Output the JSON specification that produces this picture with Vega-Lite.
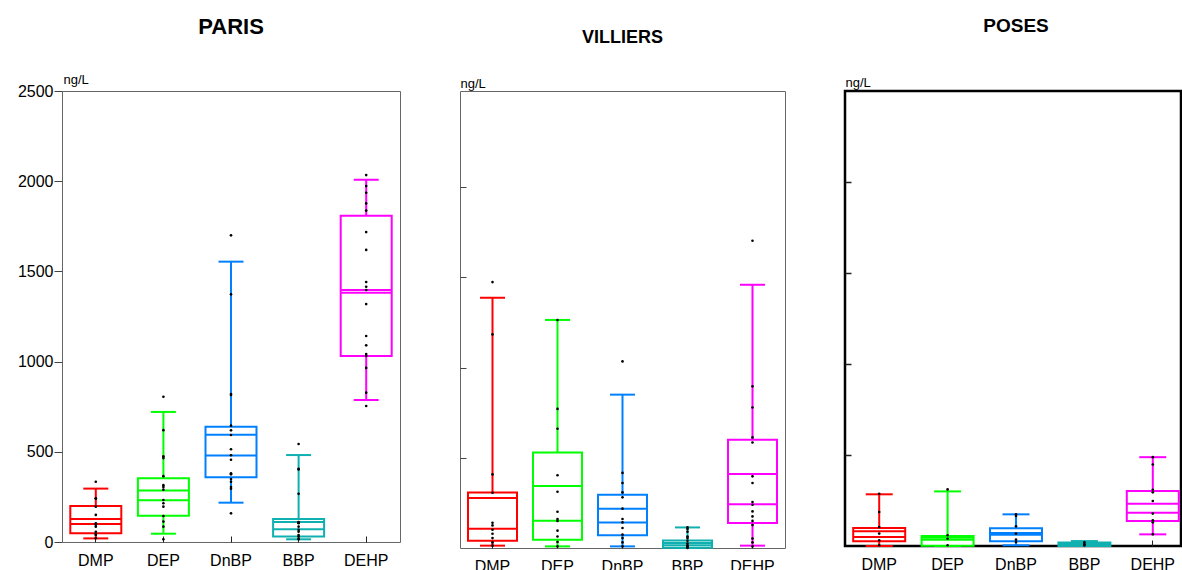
{
  "$schema": "https://vega.github.io/schema/vega-lite/v6.json",
  "autosize": {"type": "none"},
  "padding": {"left": 62, "top": 91, "right": 1120, "bottom": 479},
  "background": "white",
  "config": {"font": "Liberation Sans"},
  "spacing": 60,
  "bounds": "flush",
  "datasets": {
    "stats": [
      {"site": "PARIS", "comp": "DMP", "low": 20, "q1": 48, "med": 100, "mean": 127, "q3": 200, "high": 296},
      {"site": "PARIS", "comp": "DEP", "low": 46, "q1": 146, "med": 231, "mean": 286, "q3": 353, "high": 721},
      {"site": "PARIS", "comp": "DnBP", "low": 218, "q1": 359, "med": 480, "mean": 595, "q3": 639, "high": 1554},
      {"site": "PARIS", "comp": "BBP", "low": 15, "q1": 30, "med": 70, "mean": 111, "q3": 127, "high": 482},
      {"site": "PARIS", "comp": "DEHP", "low": 787, "q1": 1031, "med": 1382, "mean": 1397, "q3": 1809, "high": 2008},
      {"site": "VILLIERS", "comp": "DMP", "low": 13, "q1": 40, "med": 107, "mean": 277, "q3": 308, "high": 1387},
      {"site": "VILLIERS", "comp": "DEP", "low": 9, "q1": 46, "med": 151, "mean": 344, "q3": 530, "high": 1264},
      {"site": "VILLIERS", "comp": "DnBP", "low": 9, "q1": 70, "med": 142, "mean": 218, "q3": 295, "high": 850},
      {"site": "VILLIERS", "comp": "BBP", "low": 0, "q1": 2, "med": 15, "mean": 28, "q3": 42, "high": 114},
      {"site": "VILLIERS", "comp": "DEHP", "low": 13, "q1": 138, "med": 242, "mean": 410, "q3": 600, "high": 1459},
      {"site": "POSES", "comp": "DMP", "low": 0, "q1": 26, "med": 49, "mean": 81, "q3": 99, "high": 284},
      {"site": "POSES", "comp": "DEP", "low": 0, "q1": 2, "med": 35, "mean": 45, "q3": 55, "high": 300},
      {"site": "POSES", "comp": "DnBP", "low": 4, "q1": 26, "med": 62, "mean": 72, "q3": 97, "high": 174},
      {"site": "POSES", "comp": "BBP", "low": 0, "q1": 0, "med": 8, "mean": 12, "q3": 19, "high": 27},
      {"site": "POSES", "comp": "DEHP", "low": 64, "q1": 137, "med": 183, "mean": 232, "q3": 302, "high": 488}
    ],
    "pts": [
      {"site": "PARIS", "comp": "DMP", "v": 334}, {"site": "PARIS", "comp": "DMP", "v": 242}, {"site": "PARIS", "comp": "DMP", "v": 240}, {"site": "PARIS", "comp": "DMP", "v": 196}, {"site": "PARIS", "comp": "DMP", "v": 150}, {"site": "PARIS", "comp": "DMP", "v": 104}, {"site": "PARIS", "comp": "DMP", "v": 95}, {"site": "PARIS", "comp": "DMP", "v": 85}, {"site": "PARIS", "comp": "DMP", "v": 57}, {"site": "PARIS", "comp": "DMP", "v": 45}, {"site": "PARIS", "comp": "DMP", "v": 39}, {"site": "PARIS", "comp": "DMP", "v": 21},
      {"site": "PARIS", "comp": "DEP", "v": 805}, {"site": "PARIS", "comp": "DEP", "v": 620}, {"site": "PARIS", "comp": "DEP", "v": 475}, {"site": "PARIS", "comp": "DEP", "v": 465}, {"site": "PARIS", "comp": "DEP", "v": 365}, {"site": "PARIS", "comp": "DEP", "v": 315}, {"site": "PARIS", "comp": "DEP", "v": 305}, {"site": "PARIS", "comp": "DEP", "v": 290}, {"site": "PARIS", "comp": "DEP", "v": 233}, {"site": "PARIS", "comp": "DEP", "v": 215}, {"site": "PARIS", "comp": "DEP", "v": 196}, {"site": "PARIS", "comp": "DEP", "v": 144}, {"site": "PARIS", "comp": "DEP", "v": 113}, {"site": "PARIS", "comp": "DEP", "v": 85}, {"site": "PARIS", "comp": "DEP", "v": 15},
      {"site": "PARIS", "comp": "DnBP", "v": 1700}, {"site": "PARIS", "comp": "DnBP", "v": 1373}, {"site": "PARIS", "comp": "DnBP", "v": 820}, {"site": "PARIS", "comp": "DnBP", "v": 815}, {"site": "PARIS", "comp": "DnBP", "v": 645}, {"site": "PARIS", "comp": "DnBP", "v": 619}, {"site": "PARIS", "comp": "DnBP", "v": 593}, {"site": "PARIS", "comp": "DnBP", "v": 514}, {"site": "PARIS", "comp": "DnBP", "v": 481}, {"site": "PARIS", "comp": "DnBP", "v": 456}, {"site": "PARIS", "comp": "DnBP", "v": 381}, {"site": "PARIS", "comp": "DnBP", "v": 375}, {"site": "PARIS", "comp": "DnBP", "v": 349}, {"site": "PARIS", "comp": "DnBP", "v": 334}, {"site": "PARIS", "comp": "DnBP", "v": 305}, {"site": "PARIS", "comp": "DnBP", "v": 295}, {"site": "PARIS", "comp": "DnBP", "v": 159},
      {"site": "PARIS", "comp": "BBP", "v": 543}, {"site": "PARIS", "comp": "BBP", "v": 405}, {"site": "PARIS", "comp": "BBP", "v": 402}, {"site": "PARIS", "comp": "BBP", "v": 267}, {"site": "PARIS", "comp": "BBP", "v": 110}, {"site": "PARIS", "comp": "BBP", "v": 107}, {"site": "PARIS", "comp": "BBP", "v": 104}, {"site": "PARIS", "comp": "BBP", "v": 85}, {"site": "PARIS", "comp": "BBP", "v": 67}, {"site": "PARIS", "comp": "BBP", "v": 57}, {"site": "PARIS", "comp": "BBP", "v": 39}, {"site": "PARIS", "comp": "BBP", "v": 30}, {"site": "PARIS", "comp": "BBP", "v": 17}, {"site": "PARIS", "comp": "BBP", "v": 15},
      {"site": "PARIS", "comp": "DEHP", "v": 2034}, {"site": "PARIS", "comp": "DEHP", "v": 1973}, {"site": "PARIS", "comp": "DEHP", "v": 1936}, {"site": "PARIS", "comp": "DEHP", "v": 1877}, {"site": "PARIS", "comp": "DEHP", "v": 1837}, {"site": "PARIS", "comp": "DEHP", "v": 1718}, {"site": "PARIS", "comp": "DEHP", "v": 1619}, {"site": "PARIS", "comp": "DEHP", "v": 1441}, {"site": "PARIS", "comp": "DEHP", "v": 1415}, {"site": "PARIS", "comp": "DEHP", "v": 1397}, {"site": "PARIS", "comp": "DEHP", "v": 1319}, {"site": "PARIS", "comp": "DEHP", "v": 1142}, {"site": "PARIS", "comp": "DEHP", "v": 1090}, {"site": "PARIS", "comp": "DEHP", "v": 1042}, {"site": "PARIS", "comp": "DEHP", "v": 1031}, {"site": "PARIS", "comp": "DEHP", "v": 965}, {"site": "PARIS", "comp": "DEHP", "v": 828}, {"site": "PARIS", "comp": "DEHP", "v": 754},
      {"site": "VILLIERS", "comp": "DMP", "v": 1474}, {"site": "VILLIERS", "comp": "DMP", "v": 1184}, {"site": "VILLIERS", "comp": "DMP", "v": 408}, {"site": "VILLIERS", "comp": "DMP", "v": 306}, {"site": "VILLIERS", "comp": "DMP", "v": 140}, {"site": "VILLIERS", "comp": "DMP", "v": 125}, {"site": "VILLIERS", "comp": "DMP", "v": 101}, {"site": "VILLIERS", "comp": "DMP", "v": 79}, {"site": "VILLIERS", "comp": "DMP", "v": 55}, {"site": "VILLIERS", "comp": "DMP", "v": 31}, {"site": "VILLIERS", "comp": "DMP", "v": 13},
      {"site": "VILLIERS", "comp": "DEP", "v": 1264}, {"site": "VILLIERS", "comp": "DEP", "v": 771}, {"site": "VILLIERS", "comp": "DEP", "v": 661}, {"site": "VILLIERS", "comp": "DEP", "v": 403}, {"site": "VILLIERS", "comp": "DEP", "v": 312}, {"site": "VILLIERS", "comp": "DEP", "v": 201}, {"site": "VILLIERS", "comp": "DEP", "v": 161}, {"site": "VILLIERS", "comp": "DEP", "v": 150}, {"site": "VILLIERS", "comp": "DEP", "v": 96}, {"site": "VILLIERS", "comp": "DEP", "v": 64}, {"site": "VILLIERS", "comp": "DEP", "v": 33}, {"site": "VILLIERS", "comp": "DEP", "v": 9},
      {"site": "VILLIERS", "comp": "DnBP", "v": 1034}, {"site": "VILLIERS", "comp": "DnBP", "v": 416}, {"site": "VILLIERS", "comp": "DnBP", "v": 360}, {"site": "VILLIERS", "comp": "DnBP", "v": 308}, {"site": "VILLIERS", "comp": "DnBP", "v": 281}, {"site": "VILLIERS", "comp": "DnBP", "v": 218}, {"site": "VILLIERS", "comp": "DnBP", "v": 161}, {"site": "VILLIERS", "comp": "DnBP", "v": 142}, {"site": "VILLIERS", "comp": "DnBP", "v": 111}, {"site": "VILLIERS", "comp": "DnBP", "v": 74}, {"site": "VILLIERS", "comp": "DnBP", "v": 55}, {"site": "VILLIERS", "comp": "DnBP", "v": 31}, {"site": "VILLIERS", "comp": "DnBP", "v": 9},
      {"site": "VILLIERS", "comp": "BBP", "v": 114}, {"site": "VILLIERS", "comp": "BBP", "v": 105}, {"site": "VILLIERS", "comp": "BBP", "v": 90}, {"site": "VILLIERS", "comp": "BBP", "v": 64}, {"site": "VILLIERS", "comp": "BBP", "v": 55}, {"site": "VILLIERS", "comp": "BBP", "v": 40}, {"site": "VILLIERS", "comp": "BBP", "v": 25}, {"site": "VILLIERS", "comp": "BBP", "v": 15}, {"site": "VILLIERS", "comp": "BBP", "v": 8}, {"site": "VILLIERS", "comp": "BBP", "v": 3}, {"site": "VILLIERS", "comp": "BBP", "v": 0},
      {"site": "VILLIERS", "comp": "DEHP", "v": 1703}, {"site": "VILLIERS", "comp": "DEHP", "v": 896}, {"site": "VILLIERS", "comp": "DEHP", "v": 779}, {"site": "VILLIERS", "comp": "DEHP", "v": 613}, {"site": "VILLIERS", "comp": "DEHP", "v": 585}, {"site": "VILLIERS", "comp": "DEHP", "v": 397}, {"site": "VILLIERS", "comp": "DEHP", "v": 360}, {"site": "VILLIERS", "comp": "DEHP", "v": 255}, {"site": "VILLIERS", "comp": "DEHP", "v": 240}, {"site": "VILLIERS", "comp": "DEHP", "v": 203}, {"site": "VILLIERS", "comp": "DEHP", "v": 175}, {"site": "VILLIERS", "comp": "DEHP", "v": 150}, {"site": "VILLIERS", "comp": "DEHP", "v": 127}, {"site": "VILLIERS", "comp": "DEHP", "v": 52}, {"site": "VILLIERS", "comp": "DEHP", "v": 31}, {"site": "VILLIERS", "comp": "DEHP", "v": 9},
      {"site": "POSES", "comp": "DMP", "v": 287}, {"site": "POSES", "comp": "DMP", "v": 187}, {"site": "POSES", "comp": "DMP", "v": 104}, {"site": "POSES", "comp": "DMP", "v": 68}, {"site": "POSES", "comp": "DMP", "v": 31}, {"site": "POSES", "comp": "DMP", "v": 4},
      {"site": "POSES", "comp": "DEP", "v": 311}, {"site": "POSES", "comp": "DEP", "v": 59}, {"site": "POSES", "comp": "DEP", "v": 40}, {"site": "POSES", "comp": "DEP", "v": 4},
      {"site": "POSES", "comp": "DnBP", "v": 174}, {"site": "POSES", "comp": "DnBP", "v": 165}, {"site": "POSES", "comp": "DnBP", "v": 108}, {"site": "POSES", "comp": "DnBP", "v": 68}, {"site": "POSES", "comp": "DnBP", "v": 35}, {"site": "POSES", "comp": "DnBP", "v": 22},
      {"site": "POSES", "comp": "BBP", "v": 20}, {"site": "POSES", "comp": "BBP", "v": 10}, {"site": "POSES", "comp": "BBP", "v": 3},
      {"site": "POSES", "comp": "DEHP", "v": 488}, {"site": "POSES", "comp": "DEHP", "v": 448}, {"site": "POSES", "comp": "DEHP", "v": 309}, {"site": "POSES", "comp": "DEHP", "v": 295}, {"site": "POSES", "comp": "DEHP", "v": 247}, {"site": "POSES", "comp": "DEHP", "v": 178}, {"site": "POSES", "comp": "DEHP", "v": 141}, {"site": "POSES", "comp": "DEHP", "v": 130}, {"site": "POSES", "comp": "DEHP", "v": 64}
    ]
  },
  "hconcat": [
    {
      "width": 338, "height": 451,
      "title": {"text": "PARIS", "fontSize": 22, "fontWeight": "bold", "color": "black", "offset": 17, "baseline": "alphabetic", "anchor": "middle", "frame": "group"},
      "view": {"stroke": "#666", "strokeWidth": 1},
      "encoding": {
        "x": {"field": "comp", "type": "nominal", "sort": ["DMP", "DEP", "DnBP", "BBP", "DEHP"], "title": null,
              "scale": {"domain": ["DMP", "DEP", "DnBP", "BBP", "DEHP"], "paddingInner": 0, "paddingOuter": 0},
              "axis": {"labelAngle": 0, "labelFontSize": 16, "labelColor": "black", "tickSize": -6, "labelPadding": 16, "domain": false, "tickColor": "#222", "grid": false}}
      },
      "layer": [
        {"data": {"name": "stats"}, "transform": [{"filter": "datum.site === 'PARIS'"}],
         "mark": {"type": "rule", "strokeWidth": 2},
         "encoding": {
           "y": {"field": "low", "type": "quantitative", "scale": {"domain": [0, 2500]},
                 "axis": {"values": [0, 500, 1000, 1500, 2000, 2500], "format": "d", "labelFontSize": 16, "labelColor": "black", "tickSize": 8, "tickColor": "#444", "labelPadding": 1, "domain": false, "grid": false, "title": "ng/L", "titleAngle": 0, "titleAlign": "left", "titleBaseline": "alphabetic", "titleX": 1, "titleY": -8, "titleFontSize": 13, "titleFontWeight": "normal", "titleColor": "black"}},
           "y2": {"field": "high"},
           "color": {"field": "comp", "type": "nominal", "scale": {"domain": ["DMP", "DEP", "DnBP", "BBP", "DEHP"], "range": ["#ff0000", "#00ff00", "#0080ff", "#10b0b0", "#ff00ff"]}, "legend": null}
         }},
        {"data": {"name": "stats"}, "transform": [{"filter": "datum.site === 'PARIS'"}],
         "mark": {"type": "bar", "width": 51, "fill": "white", "strokeWidth": 2},
         "encoding": {
           "y": {"field": "q1", "type": "quantitative", "scale": {"domain": [0, 2500]},
                 "axis": {"values": [0, 500, 1000, 1500, 2000, 2500], "format": "d", "labelFontSize": 16, "labelColor": "black", "tickSize": 8, "tickColor": "#444", "labelPadding": 1, "domain": false, "grid": false, "title": "ng/L", "titleAngle": 0, "titleAlign": "left", "titleBaseline": "alphabetic", "titleX": 1, "titleY": -8, "titleFontSize": 13, "titleFontWeight": "normal", "titleColor": "black"}},
           "y2": {"field": "q3"},
           "stroke": {"field": "comp", "type": "nominal", "scale": {"domain": ["DMP", "DEP", "DnBP", "BBP", "DEHP"], "range": ["#ff0000", "#00ff00", "#0080ff", "#10b0b0", "#ff00ff"]}, "legend": null}
         }},
        {"data": {"name": "stats"}, "transform": [{"filter": "datum.site === 'PARIS'"}, {"fold": ["med", "mean"], "as": ["stat", "val"]}],
         "mark": {"type": "tick", "size": 51, "thickness": 2, "opacity": 1},
         "encoding": {
           "y": {"field": "val", "type": "quantitative", "scale": {"domain": [0, 2500]},
                 "axis": {"values": [0, 500, 1000, 1500, 2000, 2500], "format": "d", "labelFontSize": 16, "labelColor": "black", "tickSize": 8, "tickColor": "#444", "labelPadding": 1, "domain": false, "grid": false, "title": "ng/L", "titleAngle": 0, "titleAlign": "left", "titleBaseline": "alphabetic", "titleX": 1, "titleY": -8, "titleFontSize": 13, "titleFontWeight": "normal", "titleColor": "black"}},
           "color": {"field": "comp", "type": "nominal", "scale": {"domain": ["DMP", "DEP", "DnBP", "BBP", "DEHP"], "range": ["#ff0000", "#00ff00", "#0080ff", "#10b0b0", "#ff00ff"]}, "legend": null}
         }},
        {"data": {"name": "stats"}, "transform": [{"filter": "datum.site === 'PARIS'"}, {"fold": ["low", "high"], "as": ["stat", "val"]}],
         "mark": {"type": "tick", "size": 25, "thickness": 2, "opacity": 1},
         "encoding": {
           "y": {"field": "val", "type": "quantitative", "scale": {"domain": [0, 2500]},
                 "axis": {"values": [0, 500, 1000, 1500, 2000, 2500], "format": "d", "labelFontSize": 16, "labelColor": "black", "tickSize": 8, "tickColor": "#444", "labelPadding": 1, "domain": false, "grid": false, "title": "ng/L", "titleAngle": 0, "titleAlign": "left", "titleBaseline": "alphabetic", "titleX": 1, "titleY": -8, "titleFontSize": 13, "titleFontWeight": "normal", "titleColor": "black"}},
           "color": {"field": "comp", "type": "nominal", "scale": {"domain": ["DMP", "DEP", "DnBP", "BBP", "DEHP"], "range": ["#ff0000", "#00ff00", "#0080ff", "#10b0b0", "#ff00ff"]}, "legend": null}
         }},
        {"data": {"name": "pts"}, "transform": [{"filter": "datum.site === 'PARIS'"}],
         "mark": {"type": "circle", "size": 7, "color": "black", "opacity": 1},
         "encoding": {
           "y": {"field": "v", "type": "quantitative", "scale": {"domain": [0, 2500]},
                 "axis": {"values": [0, 500, 1000, 1500, 2000, 2500], "format": "d", "labelFontSize": 16, "labelColor": "black", "tickSize": 8, "tickColor": "#444", "labelPadding": 1, "domain": false, "grid": false, "title": "ng/L", "titleAngle": 0, "titleAlign": "left", "titleBaseline": "alphabetic", "titleX": 1, "titleY": -8, "titleFontSize": 13, "titleFontWeight": "normal", "titleColor": "black"}}
         }}
      ]
    },
    {
      "width": 325, "height": 457,
      "title": {"text": "VILLIERS", "fontSize": 18, "fontWeight": "bold", "color": "black", "offset": 16, "baseline": "alphabetic", "anchor": "middle", "frame": "group"},
      "view": {"stroke": "#666", "strokeWidth": 1},
      "encoding": {
        "x": {"field": "comp", "type": "nominal", "sort": ["DMP", "DEP", "DnBP", "BBP", "DEHP"], "title": null,
              "scale": {"domain": ["DMP", "DEP", "DnBP", "BBP", "DEHP"], "paddingInner": 0, "paddingOuter": 0},
              "axis": {"labelAngle": 0, "labelFontSize": 16, "labelColor": "black", "tickSize": -6, "labelPadding": 16, "domain": false, "tickColor": "#222", "grid": false}}
      },
      "layer": [
        {"data": {"name": "stats"}, "transform": [{"filter": "datum.site === 'VILLIERS'"}],
         "mark": {"type": "rule", "strokeWidth": 2},
         "encoding": {
           "y": {"field": "low", "type": "quantitative", "scale": {"domain": [0, 2533]},
                 "axis": {"values": [500, 1000, 1500, 2000], "labels": false, "tickSize": -6, "tickColor": "#444", "domain": false, "grid": false, "title": "ng/L", "titleAngle": 0, "titleAlign": "left", "titleBaseline": "alphabetic", "titleX": 0, "titleY": -4, "titleFontSize": 13, "titleFontWeight": "normal", "titleColor": "black"}},
           "y2": {"field": "high"},
           "color": {"field": "comp", "type": "nominal", "scale": {"domain": ["DMP", "DEP", "DnBP", "BBP", "DEHP"], "range": ["#ff0000", "#00ff00", "#0080ff", "#10b0b0", "#ff00ff"]}, "legend": null}
         }},
        {"data": {"name": "stats"}, "transform": [{"filter": "datum.site === 'VILLIERS'"}],
         "mark": {"type": "bar", "width": 49, "fill": "white", "strokeWidth": 2},
         "encoding": {
           "y": {"field": "q1", "type": "quantitative", "scale": {"domain": [0, 2533]},
                 "axis": {"values": [500, 1000, 1500, 2000], "labels": false, "tickSize": -6, "tickColor": "#444", "domain": false, "grid": false, "title": "ng/L", "titleAngle": 0, "titleAlign": "left", "titleBaseline": "alphabetic", "titleX": 0, "titleY": -4, "titleFontSize": 13, "titleFontWeight": "normal", "titleColor": "black"}},
           "y2": {"field": "q3"},
           "stroke": {"field": "comp", "type": "nominal", "scale": {"domain": ["DMP", "DEP", "DnBP", "BBP", "DEHP"], "range": ["#ff0000", "#00ff00", "#0080ff", "#10b0b0", "#ff00ff"]}, "legend": null}
         }},
        {"data": {"name": "stats"}, "transform": [{"filter": "datum.site === 'VILLIERS'"}, {"fold": ["med", "mean"], "as": ["stat", "val"]}],
         "mark": {"type": "tick", "size": 49, "thickness": 2, "opacity": 1},
         "encoding": {
           "y": {"field": "val", "type": "quantitative", "scale": {"domain": [0, 2533]},
                 "axis": {"values": [500, 1000, 1500, 2000], "labels": false, "tickSize": -6, "tickColor": "#444", "domain": false, "grid": false, "title": "ng/L", "titleAngle": 0, "titleAlign": "left", "titleBaseline": "alphabetic", "titleX": 0, "titleY": -4, "titleFontSize": 13, "titleFontWeight": "normal", "titleColor": "black"}},
           "color": {"field": "comp", "type": "nominal", "scale": {"domain": ["DMP", "DEP", "DnBP", "BBP", "DEHP"], "range": ["#ff0000", "#00ff00", "#0080ff", "#10b0b0", "#ff00ff"]}, "legend": null}
         }},
        {"data": {"name": "stats"}, "transform": [{"filter": "datum.site === 'VILLIERS'"}, {"fold": ["low", "high"], "as": ["stat", "val"]}],
         "mark": {"type": "tick", "size": 25, "thickness": 2, "opacity": 1},
         "encoding": {
           "y": {"field": "val", "type": "quantitative", "scale": {"domain": [0, 2533]},
                 "axis": {"values": [500, 1000, 1500, 2000], "labels": false, "tickSize": -6, "tickColor": "#444", "domain": false, "grid": false, "title": "ng/L", "titleAngle": 0, "titleAlign": "left", "titleBaseline": "alphabetic", "titleX": 0, "titleY": -4, "titleFontSize": 13, "titleFontWeight": "normal", "titleColor": "black"}},
           "color": {"field": "comp", "type": "nominal", "scale": {"domain": ["DMP", "DEP", "DnBP", "BBP", "DEHP"], "range": ["#ff0000", "#00ff00", "#0080ff", "#10b0b0", "#ff00ff"]}, "legend": null}
         }},
        {"data": {"name": "pts"}, "transform": [{"filter": "datum.site === 'VILLIERS'"}],
         "mark": {"type": "circle", "size": 7, "color": "black", "opacity": 1},
         "encoding": {
           "y": {"field": "v", "type": "quantitative", "scale": {"domain": [0, 2533]},
                 "axis": {"values": [500, 1000, 1500, 2000], "labels": false, "tickSize": -6, "tickColor": "#444", "domain": false, "grid": false, "title": "ng/L", "titleAngle": 0, "titleAlign": "left", "titleBaseline": "alphabetic", "titleX": 0, "titleY": -4, "titleFontSize": 13, "titleFontWeight": "normal", "titleColor": "black"}}
         }}
      ]
    },
    {
      "width": 336, "height": 455,
      "title": {"text": "POSES", "fontSize": 19, "fontWeight": "bold", "color": "black", "offset": 25, "baseline": "alphabetic", "anchor": "middle", "frame": "group", "dx": 3},
      "view": {"stroke": "black", "strokeWidth": 2.5},
      "encoding": {
        "x": {"field": "comp", "type": "nominal", "sort": ["DMP", "DEP", "DnBP", "BBP", "DEHP"], "title": null,
              "scale": {"domain": ["DMP", "DEP", "DnBP", "BBP", "DEHP"], "paddingInner": 0, "paddingOuter": 0, "range": [0, 342]},
              "axis": {"labelAngle": 0, "labelFontSize": 16, "labelColor": "black", "tickSize": -6, "labelPadding": 16, "domain": false, "tickColor": "#222", "grid": false}}
      },
      "layer": [
        {"data": {"name": "stats"}, "transform": [{"filter": "datum.site === 'POSES'"}],
         "mark": {"type": "rule", "strokeWidth": 2},
         "encoding": {
           "y": {"field": "low", "type": "quantitative", "scale": {"domain": [0, 2500]},
                 "axis": {"values": [500, 1000, 1500, 2000], "labels": false, "tickSize": -6, "tickColor": "#222", "tickWidth": 1.5, "domain": false, "grid": false, "title": "ng/L", "titleAngle": 0, "titleAlign": "left", "titleBaseline": "alphabetic", "titleX": 0, "titleY": -5, "titleFontSize": 13, "titleFontWeight": "normal", "titleColor": "black"}},
           "y2": {"field": "high"},
           "color": {"field": "comp", "type": "nominal", "scale": {"domain": ["DMP", "DEP", "DnBP", "BBP", "DEHP"], "range": ["#ff0000", "#00ff00", "#0080ff", "#10a8a8", "#ff00ff"]}, "legend": null}
         }},
        {"data": {"name": "stats"}, "transform": [{"filter": "datum.site === 'POSES'"}],
         "mark": {"type": "bar", "width": 52, "fill": "white", "strokeWidth": 2},
         "encoding": {
           "y": {"field": "q1", "type": "quantitative", "scale": {"domain": [0, 2500]},
                 "axis": {"values": [500, 1000, 1500, 2000], "labels": false, "tickSize": -6, "tickColor": "#222", "tickWidth": 1.5, "domain": false, "grid": false, "title": "ng/L", "titleAngle": 0, "titleAlign": "left", "titleBaseline": "alphabetic", "titleX": 0, "titleY": -5, "titleFontSize": 13, "titleFontWeight": "normal", "titleColor": "black"}},
           "y2": {"field": "q3"},
           "stroke": {"field": "comp", "type": "nominal", "scale": {"domain": ["DMP", "DEP", "DnBP", "BBP", "DEHP"], "range": ["#ff0000", "#00ff00", "#0080ff", "#10a8a8", "#ff00ff"]}, "legend": null}
         }},
        {"data": {"name": "stats"}, "transform": [{"filter": "datum.site === 'POSES'"}, {"fold": ["med", "mean"], "as": ["stat", "val"]}],
         "mark": {"type": "tick", "size": 52, "thickness": 2, "opacity": 1},
         "encoding": {
           "y": {"field": "val", "type": "quantitative", "scale": {"domain": [0, 2500]},
                 "axis": {"values": [500, 1000, 1500, 2000], "labels": false, "tickSize": -6, "tickColor": "#222", "tickWidth": 1.5, "domain": false, "grid": false, "title": "ng/L", "titleAngle": 0, "titleAlign": "left", "titleBaseline": "alphabetic", "titleX": 0, "titleY": -5, "titleFontSize": 13, "titleFontWeight": "normal", "titleColor": "black"}},
           "color": {"field": "comp", "type": "nominal", "scale": {"domain": ["DMP", "DEP", "DnBP", "BBP", "DEHP"], "range": ["#ff0000", "#00ff00", "#0080ff", "#10a8a8", "#ff00ff"]}, "legend": null}
         }},
        {"data": {"name": "stats"}, "transform": [{"filter": "datum.site === 'POSES'"}, {"fold": ["low", "high"], "as": ["stat", "val"]}],
         "mark": {"type": "tick", "size": 27, "thickness": 2, "opacity": 1},
         "encoding": {
           "y": {"field": "val", "type": "quantitative", "scale": {"domain": [0, 2500]},
                 "axis": {"values": [500, 1000, 1500, 2000], "labels": false, "tickSize": -6, "tickColor": "#222", "tickWidth": 1.5, "domain": false, "grid": false, "title": "ng/L", "titleAngle": 0, "titleAlign": "left", "titleBaseline": "alphabetic", "titleX": 0, "titleY": -5, "titleFontSize": 13, "titleFontWeight": "normal", "titleColor": "black"}},
           "color": {"field": "comp", "type": "nominal", "scale": {"domain": ["DMP", "DEP", "DnBP", "BBP", "DEHP"], "range": ["#ff0000", "#00ff00", "#0080ff", "#10a8a8", "#ff00ff"]}, "legend": null}
         }},
        {"data": {"name": "pts"}, "transform": [{"filter": "datum.site === 'POSES'"}],
         "mark": {"type": "circle", "size": 7, "color": "black", "opacity": 1},
         "encoding": {
           "y": {"field": "v", "type": "quantitative", "scale": {"domain": [0, 2500]},
                 "axis": {"values": [500, 1000, 1500, 2000], "labels": false, "tickSize": -6, "tickColor": "#222", "tickWidth": 1.5, "domain": false, "grid": false, "title": "ng/L", "titleAngle": 0, "titleAlign": "left", "titleBaseline": "alphabetic", "titleX": 0, "titleY": -5, "titleFontSize": 13, "titleFontWeight": "normal", "titleColor": "black"}}
         }}
      ]
    }
  ]
}
